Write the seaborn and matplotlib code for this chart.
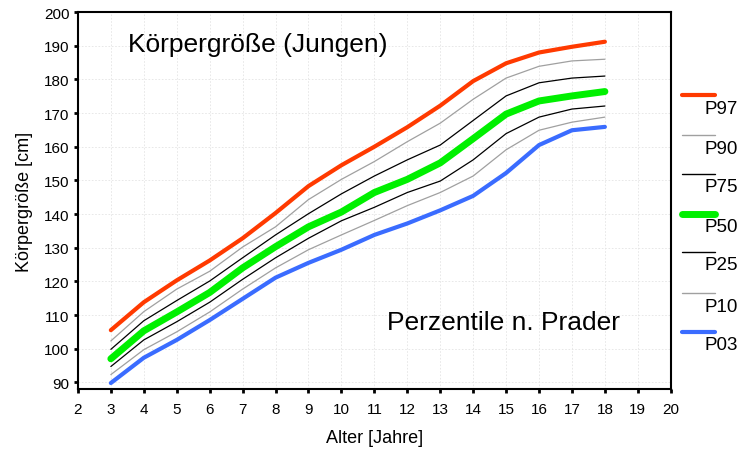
import numpy as np
import pandas as pd
import matplotlib
matplotlib.use("Agg")
import matplotlib.pyplot as plt
from matplotlib.lines import Line2D
import seaborn as sns

# Perzentilen Körpergröße Jungen (Prader)
ages = [3, 4, 5, 6, 7, 8, 9, 10, 11, 12, 13, 14, 15, 16, 17, 18]
p97 = [105.5, 113.8, 120.3, 126.2, 132.8, 140.3, 148.3, 154.5, 160.0, 165.8, 172.2, 179.5, 184.8, 188.0, 189.7, 191.2]
p90 = [102.3, 111.0, 117.7, 123.0, 130.2, 136.2, 144.3, 150.3, 155.6, 161.5, 167.0, 174.1, 180.4, 183.9, 185.5, 186.0]
p75 = [99.8, 108.3, 114.3, 120.1, 127.0, 133.8, 140.1, 146.0, 151.3, 156.1, 160.5, 167.8, 175.1, 179.0, 180.4, 181.0]
p50 = [97.0, 105.3, 110.9, 116.7, 124.0, 130.3, 136.2, 140.6, 146.4, 150.3, 155.2, 162.4, 169.7, 173.6, 175.1, 176.4]
p25 = [94.7, 102.6, 108.0, 113.8, 120.6, 127.0, 132.8, 138.0, 142.0, 146.4, 149.8, 156.1, 163.9, 168.8, 171.2, 172.1]
p10 = [92.3, 99.7, 105.0, 110.9, 117.7, 124.0, 129.4, 133.8, 138.1, 142.5, 146.4, 151.3, 159.1, 164.9, 167.3, 168.8]
p03 = [89.8, 97.3, 102.6, 108.5, 114.8, 121.1, 125.5, 129.4, 133.8, 137.2, 141.1, 145.4, 152.2, 160.5, 164.9, 165.9]

labels = ["P97", "P90", "P75", "P50", "P25", "P10", "P03"]
series = [p97, p90, p75, p50, p25, p10, p03]
colors = ["#ff3a00", "#a0a0a0", "#000000", "#00f000", "#000000", "#a0a0a0", "#3a6cff"]
widths = [3.0, 0.9, 0.9, 5.0, 0.9, 0.9, 3.0]

sns.set_style("white")
plt.rcParams["font.family"] = ["Liberation Sans", "DejaVu Sans"]
plt.rcParams["text.color"] = "black"
plt.rcParams["axes.labelcolor"] = "black"
plt.rcParams["xtick.color"] = "black"
plt.rcParams["ytick.color"] = "black"

fig = plt.figure(figsize=(7.42, 4.52), dpi=100)
ax = fig.add_axes([0.105, 0.137, 0.799, 0.834])

for vals, col, lw in zip(series, colors, widths):
    sns.lineplot(x=ages, y=vals, color=col, linewidth=lw, ax=ax, legend=False)

ax.set_xlim(2, 20)
ax.set_ylim(88, 200)
ax.set_xticks(range(2, 21))
ax.set_yticks(range(90, 201, 10))
ax.grid(True, color="#e4e4e4", linestyle=(0, (2, 2)), linewidth=0.6)
for s in ax.spines.values():
    s.set_color("black")
    s.set_linewidth(1.5)
    s.set_visible(True)
ax.tick_params(axis="both", direction="out", length=3, width=2, color="black",
               labelsize=11, bottom=True, left=True)
ax.tick_params(axis="x", pad=6)
ax.tick_params(axis="y", pad=3)
ax.set_xlabel("Alter [Jahre]", fontsize=13, labelpad=10)
ax.set_ylabel("Körpergröße [cm]", fontsize=13, labelpad=8)

ax.text(0.085, 0.915, "Körpergröße (Jungen)", transform=ax.transAxes,
        fontsize=19, va="center", ha="left")
ax.text(0.522, 0.178, "Perzentile n. Prader", transform=ax.transAxes,
        fontsize=19, va="center", ha="left")

# Legende rechts: Linie oben, Beschriftung darunter
W, H = 742, 452
line_y = [96, 136, 175, 215, 253, 294, 333]
for lab, col, lw, ly in zip(labels, colors, widths, line_y):
    fig.add_artist(Line2D([682 / W, 715 / W], [1 - ly / H, 1 - ly / H],
                          color=col, linewidth=lw if lw > 1 else 1.0,
                          transform=fig.transFigure))
    fig.text(705 / W, 1 - (ly + 13) / H, lab, fontsize=13.5, ha="left", va="center")

fig.savefig("out.png", dpi=100)
